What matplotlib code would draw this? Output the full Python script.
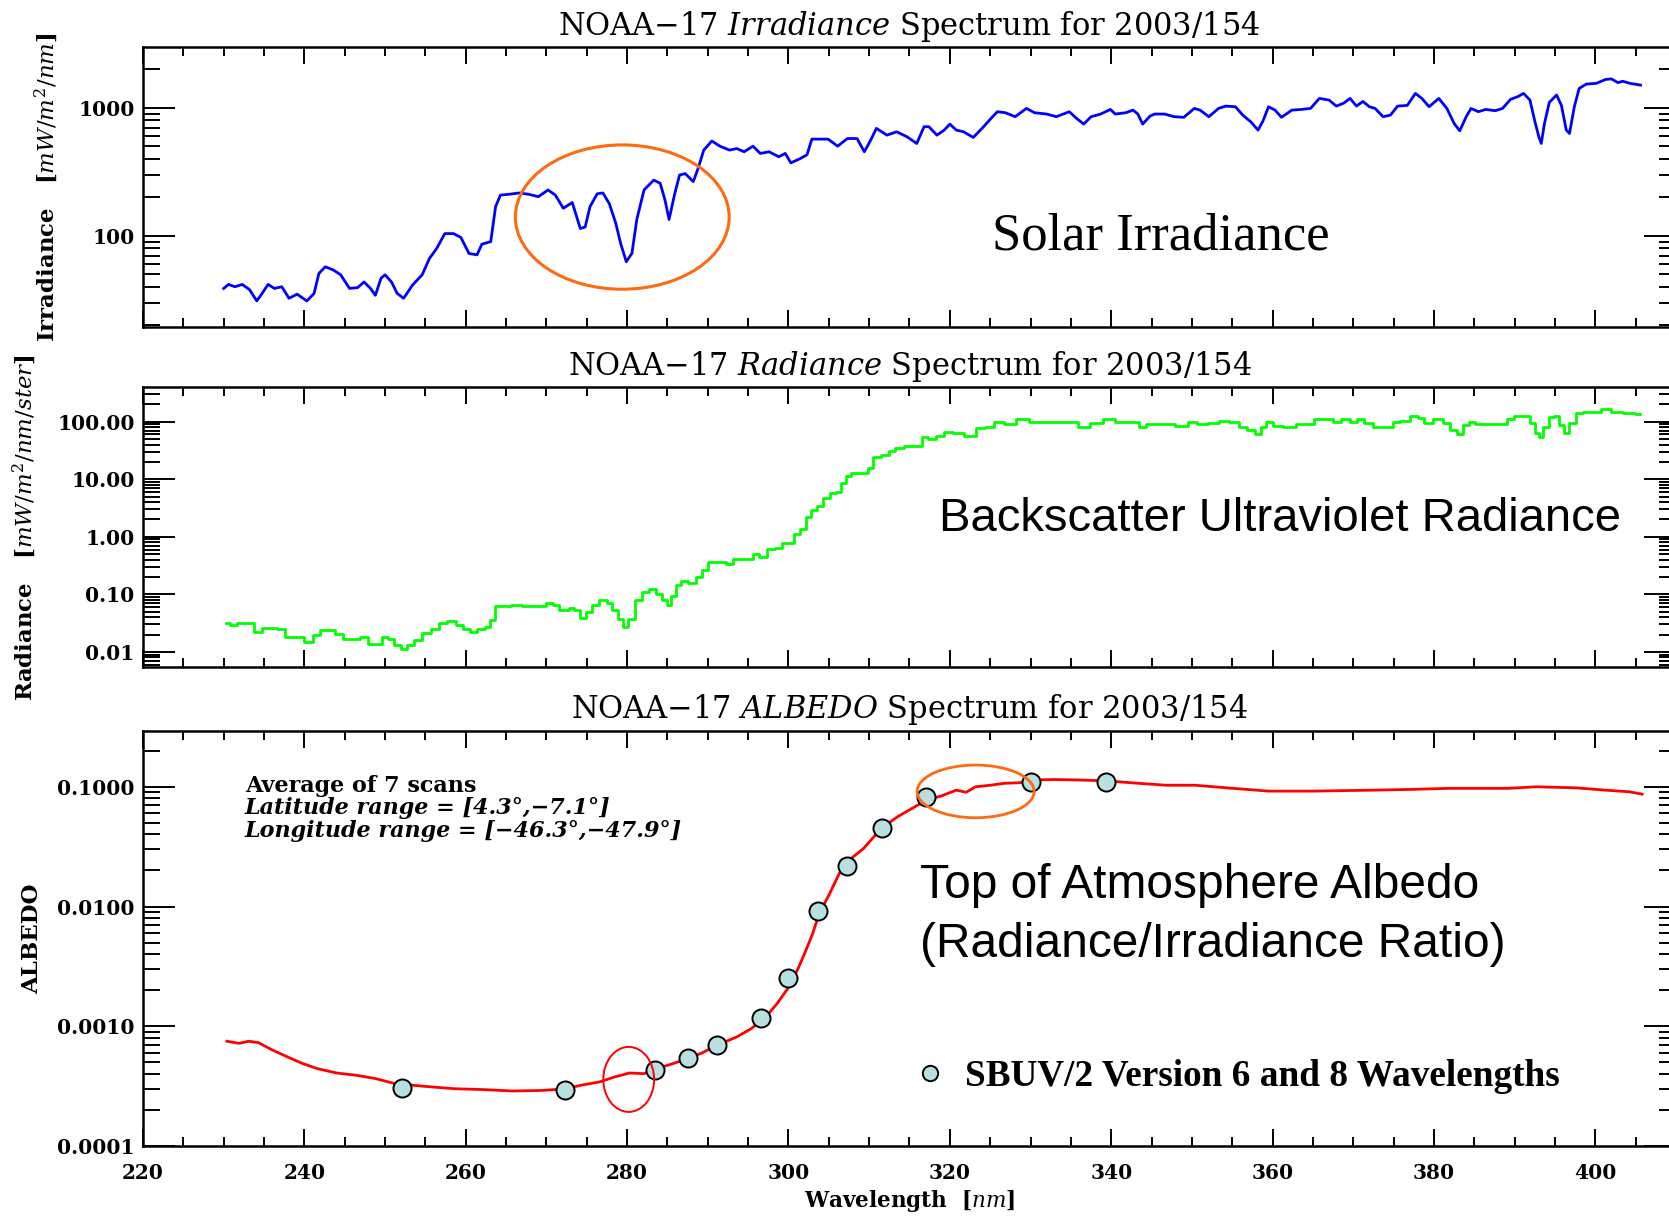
import numpy as np
import matplotlib
matplotlib.use('Agg')
import matplotlib.pyplot as plt
from matplotlib.patches import Ellipse
from matplotlib.ticker import LogLocator, FuncFormatter, NullFormatter, MultipleLocator

plt.rcParams['font.family'] = 'DejaVu Serif'
plt.rcParams['mathtext.fontset'] = 'custom'
plt.rcParams['mathtext.rm'] = 'DejaVu Serif'
plt.rcParams['mathtext.it'] = 'DejaVu Serif:italic'
plt.rcParams['mathtext.bf'] = 'DejaVu Serif:bold'

# ---------------- data ----------------
irr_wl = [230.0, 230.6, 231.4, 232.3, 233.2, 234.1, 234.7, 235.5, 236.3, 237.2, 238.1, 239.1, 240.3, 241.2,
          241.8, 242.6, 243.6, 244.5, 245.6, 246.6, 247.4, 248.2, 248.8, 249.5, 250.0, 250.8, 251.5, 252.3,
          253.4, 254.6, 255.5, 256.4, 257.4, 258.5, 259.4, 260.4, 261.4, 262.0, 263.1, 263.7, 264.3, 265.4,
          266.6, 267.8, 269.0, 270.2, 271.1, 272.1, 273.2, 274.2, 274.8, 275.4, 276.3, 277.0, 277.8, 278.6,
          279.2, 279.9, 280.6, 281.2, 282.1, 283.3, 284.1, 284.7, 285.2, 285.9, 286.5, 287.2, 288.2, 288.8,
          289.5, 290.5, 291.5, 292.7, 293.6, 294.5, 295.6, 296.5, 297.6, 298.8, 299.6, 300.3, 301.5, 302.3,
          302.9, 304.0, 304.9, 306.1, 307.3, 308.5, 309.4, 310.2, 310.9, 312.2, 313.4, 314.7, 315.9, 316.8,
          317.4, 318.4, 319.3, 320.0, 320.8, 321.7, 322.9, 324.1, 325.3, 325.9, 326.9, 328.1, 329.5, 330.5,
          332.0, 333.2, 334.8, 335.7, 336.6, 337.5, 338.7, 339.9, 340.5, 341.8, 342.7, 343.3, 343.9, 344.8,
          345.4, 346.6, 347.8, 349.0, 350.3, 351.0, 352.1, 353.3, 354.2, 355.4, 356.3, 357.3, 358.2, 358.8,
          359.5, 360.3, 361.1, 362.4, 363.6, 364.7, 365.8, 367.0, 367.9, 368.8, 369.6, 370.4, 371.2, 372.0,
          372.7, 373.7, 374.6, 375.5, 376.7, 377.7, 378.5, 379.4, 380.6, 381.6, 382.5, 383.2, 384.0, 384.6,
          385.5, 386.4, 387.6, 388.5, 389.5, 390.4, 391.1, 391.9, 392.5, 393.0, 393.3, 393.7, 394.3, 395.2,
          395.8, 396.4, 396.8, 397.4, 398.0, 398.9, 400.1, 401.3, 402.0, 402.8, 403.4, 404.3, 405.6]
irr_val = [38.8, 41.7, 40.0, 41.7, 38.0, 31.0, 35.0, 41.7, 38.8, 40.0, 32.5, 35.0, 31.0, 35.4,
           50.8, 57.3, 54.0, 49.6, 38.8, 39.4, 43.6, 38.8, 34.3, 46.6, 49.6, 43.6, 35.5, 32.5,
           41.2, 49.6, 66.5, 79.6, 104, 104, 97, 72.8, 71, 86, 90, 169, 208, 211,
           216, 211, 202, 228, 208, 164, 182, 114, 117, 169, 213, 216, 178, 125,
           87, 62.7, 73, 134, 228, 272, 257, 190, 134, 213, 298, 306, 265, 336,
           467, 550, 501, 467, 480, 453, 501, 440, 453, 414, 440, 371, 402, 430,
           569, 569, 569, 501, 575, 575, 453, 560, 690, 611, 649, 593, 526, 711,
           711, 611, 669, 745, 669, 649, 586, 702, 851, 931, 914, 851, 988, 914,
           893, 851, 931, 826, 745, 851, 893, 970, 893, 914, 959, 893, 745, 860,
           893, 893, 851, 842, 988, 959, 851, 988, 1030, 1018, 876, 777, 669, 786,
           1018, 959, 842, 959, 970, 988, 1183, 1148, 1030, 1085, 1183, 1030, 1120, 1018,
           988, 851, 876, 1030, 1043, 1294, 1183, 1018, 1183, 988, 754, 661, 851, 988,
           931, 970, 948, 988, 1164, 1221, 1294, 1148, 786, 593, 526, 754, 1102, 1257,
           1043, 669, 630, 1018, 1416, 1531, 1550, 1664, 1680, 1570, 1610, 1550, 1503]

rad_wl = [230.3, 231.2, 232.1, 233.0, 234.4, 235.2, 236.1, 237.0, 238.2, 239.4, 240.6, 241.5, 242.3, 243.4,
          244.3, 245.2, 246.4, 247.3, 248.5, 249.1, 250.1, 250.7, 251.6, 252.3, 253.1, 254.0, 255.2, 256.2,
          257.1, 258.3, 259.2, 260.1, 261.0, 261.9, 262.8, 263.3, 263.9, 264.9, 266.2, 267.7, 269.5, 270.4,
          271.3, 271.8, 272.6, 273.1, 273.8, 274.4, 275.3, 275.9, 277.1, 277.8, 278.5, 279.2, 279.8, 280.5,
          281.4, 282.3, 283.2, 284.0, 284.6, 285.2, 285.7, 286.3, 287.1, 288.1, 288.9, 289.6, 290.5, 291.8,
          292.7, 293.6, 295.1, 296.0, 296.8, 297.8, 298.8, 299.7, 300.3, 301.1, 301.8, 302.5, 303.1, 303.9,
          304.7, 305.5, 306.2, 306.8, 307.4, 308.2, 309.4, 310.2, 310.8, 312.1, 312.7, 313.8, 314.8, 316.2,
          316.8, 317.8, 318.7, 319.9, 320.8, 322.6, 323.8, 325.0, 325.9, 327.5, 329.0, 330.5, 332.0, 335.1,
          336.6, 338.1, 339.9, 341.1, 343.0, 343.9, 344.8, 346.9, 349.0, 350.1, 351.2, 352.7, 353.9, 355.4,
          356.3, 357.3, 358.3, 358.9, 359.5, 360.6, 362.1, 363.6, 364.8, 365.5, 367.0, 367.9, 369.1, 370.0,
          370.9, 371.8, 373.1, 374.6, 375.2, 376.4, 377.6, 378.5, 379.1, 380.6, 381.6, 382.5, 383.1, 384.0,
          384.6, 385.5, 388.5, 389.5, 390.4, 391.6, 392.3, 392.8, 393.2, 393.9, 394.6, 395.2, 395.8, 396.4,
          397.1, 398.0, 398.9, 400.1, 401.3, 402.5, 404.3, 405.6]
rad_val = [0.0324, 0.0291, 0.0324, 0.0315, 0.0223, 0.0265, 0.0265, 0.0255, 0.0182, 0.0182, 0.0149, 0.0195, 0.0244, 0.0244,
           0.0203, 0.0166, 0.0170, 0.0182, 0.0136, 0.0139, 0.0182, 0.0170, 0.0130, 0.0114, 0.0130, 0.0160, 0.0209, 0.0251,
           0.0324, 0.0346, 0.0291, 0.0251, 0.0223, 0.0251, 0.0270, 0.0356, 0.0622, 0.063, 0.065, 0.063, 0.063, 0.0711,
           0.065, 0.0531, 0.054, 0.059, 0.0531, 0.0395, 0.050, 0.0654, 0.0792, 0.0711, 0.0531, 0.038, 0.0272, 0.037,
           0.0792, 0.1105, 0.126, 0.103, 0.081, 0.0654, 0.092, 0.144, 0.172, 0.155, 0.203, 0.263, 0.367, 0.367,
           0.343, 0.409, 0.409, 0.50, 0.45, 0.602, 0.63, 0.766, 0.766, 1.14, 1.34, 2.23, 2.91, 3.42,
           4.64, 5.82, 6.05, 8.47, 11.3, 12.6, 12.6, 15.4, 24.6, 26.4, 31.4, 34.4, 37.7, 37.7,
           53.4, 49.3, 56.3, 67, 62.7, 56.3, 76.6, 81.9, 100, 91, 110, 100, 100, 100,
           82, 96, 110, 100, 100, 82, 91, 91, 84, 100, 91, 94, 104, 100,
           82, 71.6, 61, 82, 100, 84, 82, 91, 91, 110, 110, 100, 110, 100,
           110, 96, 82, 82, 100, 104, 125, 114, 96, 110, 94, 71.6, 61, 87,
           100, 91, 91, 110, 125, 125, 94, 64.4, 54.8, 82, 122, 125, 87, 62.7,
           94, 140, 149, 149, 164, 149, 143, 134]

alb_wl = [230.4, 231.9, 233.1, 234.3, 236.1, 237.9, 239.8, 241.6, 244.0, 246.4, 248.8, 251.2, 254.9, 258.5,
          262.1, 265.8, 269.4, 272.4, 274.2, 276.6, 278.5, 280.3, 282.1, 283.7, 285.7, 287.5, 289.3, 291.1,
          293.6, 295.4, 297.2, 298.6, 299.9, 301.1, 302.0, 303.0, 303.8, 305.1, 306.3, 307.5, 309.3, 311.5,
          313.5, 315.3, 317.1, 318.9, 320.8, 322.0, 323.2, 325.0, 326.8, 328.6, 330.4, 332.9, 335.9, 339.5,
          342.5, 346.8, 350.4, 355.2, 359.5, 364.9, 372.8, 377.0, 381.8, 389.1, 392.7, 397.6, 401.2, 404.2, 405.8]
alb_val = [7.5e-4, 7.2e-4, 7.5e-4, 7.3e-4, 6.3e-4, 5.55e-4, 4.88e-4, 4.43e-4, 4.07e-4, 3.90e-4, 3.66e-4, 3.32e-4, 3.15e-4, 3.01e-4,
           2.96e-4, 2.88e-4, 2.91e-4, 3.0e-4, 3.21e-4, 3.43e-4, 3.78e-4, 4.07e-4, 4.02e-4, 4.43e-4, 4.88e-4, 5.37e-4, 5.99e-4, 6.94e-4,
           8.15e-4, 9.57e-4, 1.20e-3, 1.55e-3, 2.06e-3, 2.94e-3, 4.05e-3, 5.94e-3, 8.74e-3, 1.28e-2, 1.89e-2, 2.44e-2, 3.05e-2, 4.49e-2,
           5.61e-2, 6.59e-2, 7.74e-2, 8.36e-2, 9.38e-2, 9.0e-2, 0.100, 0.103, 0.107, 0.108, 0.114, 0.115, 0.114, 0.112,
           0.108, 0.103, 0.103, 0.0969, 0.092, 0.092, 0.0938, 0.095, 0.097, 0.097, 0.100, 0.098, 0.0938, 0.0908, 0.0868]

sbuv_wl = [252.1, 272.3, 283.5, 287.5, 291.1, 296.6, 299.9, 303.7, 307.2, 311.6, 317.1, 330.1, 339.3]
sbuv_val = [3.05e-4, 2.96e-4, 4.28e-4, 5.43e-4, 6.94e-4, 1.18e-3, 2.54e-3, 9.2e-3, 2.19e-2, 4.57e-2, 8.25e-2, 0.109, 0.109]

titles = ["NOAA\u221217 $\\mathit{Irradiance}$ Spectrum for 2003/154",
          "NOAA\u221217 $\\mathit{Radiance}$ Spectrum for 2003/154",
          "NOAA\u221217 $\\mathit{ALBEDO}$ Spectrum for $\\mathit{2003/154}$"]
ylabels = ["Irradiance   [$\\mathit{mW/m^2/nm}$]",
           "Radiance   [$\\mathit{mW/m^2/nm/ster}$]",
           "ALBEDO"]
xlabel = "Wavelength  [$\\mathit{nm}$]"
info_lines = ["Average of 7 scans",
              "Latitude range = [4.3\u00b0,\u22127.1\u00b0]",
              "Longitude range = [\u221246.3\u00b0,\u221247.9\u00b0]"]

# ---------------- figure ----------------
W, H = 1669, 1217
fig = plt.figure(figsize=(W / 100, H / 100), dpi=100)

def fx(px):
    return px / W

def fy(py):
    return 1 - py / H

x_left, x_right = 143, 1676
ax1 = fig.add_axes([fx(x_left), fy(326.7), fx(x_right - x_left), (326.7 - 47.3) / H])
ax2 = fig.add_axes([fx(x_left), fy(667.3), fx(x_right - x_left), (667.3 - 387.3) / H])
ax3 = fig.add_axes([fx(x_left), fy(1146), fx(x_right - x_left), (1146 - 730.7) / H])

ax1.plot(irr_wl, irr_val, color='#0000ff', lw=2.0)
ax2.plot(rad_wl, rad_val, color='#00ff00', lw=2.0, drawstyle='steps-mid')
ax3.plot(alb_wl, alb_val, color='#ff0000', lw=2.0)
ax3.plot(sbuv_wl, sbuv_val, 'o', ms=13, mfc='#b8e0e0', mec='black', mew=1.4,
         label='SBUV/2 Version 6 and 8 Wavelengths', zorder=5)

ylims = [(19.5, 2965), (0.0054, 396), (1e-4, 0.294)]
fmts = [lambda v, p: '%d' % round(v), lambda v, p: '%.2f' % v, lambda v, p: '%.4f' % v]

for ax, yl, fm, t, lab in zip([ax1, ax2, ax3], ylims, fmts, titles, ylabels):
    ax.set_xlim(220, 410)
    ax.set_yscale('log')
    ax.set_ylim(*yl)
    ax.xaxis.set_major_locator(MultipleLocator(20))
    ax.xaxis.set_minor_locator(MultipleLocator(5))
    ax.yaxis.set_major_locator(LogLocator(base=10, numticks=20))
    ax.yaxis.set_minor_locator(LogLocator(base=10, subs=np.arange(2, 10), numticks=20))
    ax.yaxis.set_major_formatter(FuncFormatter(fm))
    ax.yaxis.set_minor_formatter(NullFormatter())
    ax.tick_params(which='both', direction='in', top=True, right=True, width=1.4, colors='black')
    ax.tick_params(axis='x', which='major', length=12.5)
    ax.tick_params(axis='x', which='minor', length=6.5)
    ax.tick_params(axis='y', which='major', length=23, pad=6)
    ax.tick_params(axis='y', which='minor', length=12)
    for s in ax.spines.values():
        s.set_linewidth(1.8)
    for lbl in ax.get_yticklabels():
        lbl.set_fontweight('bold')
        lbl.set_fontsize(14.5)
    ax.set_title(t, fontsize=22, pad=9)
    ax.set_ylabel(lab, fontsize=16.5, fontweight='bold')

ax1.tick_params(axis='x', labelbottom=False)
ax2.tick_params(axis='x', labelbottom=False)
ax3.tick_params(axis='x', pad=12)
for lbl in ax3.get_xticklabels():
    lbl.set_fontweight('bold')
    lbl.set_fontsize(14.5)
ax3.set_xlabel(xlabel, fontsize=15.5, fontweight='bold', labelpad=4)

ax1.yaxis.set_label_coords((60 - x_left) / (x_right - x_left), 0.5)
ax2.yaxis.set_label_coords((38 - x_left) / (x_right - x_left), 0.5)
ax3.yaxis.set_label_coords((43 - x_left) / (x_right - x_left), 0.5)


def ring(ax, wl, val, width_nm, height_dec, color, lw):
    x0, x1 = ax.get_xlim()
    y0, y1 = np.log10(ax.get_ylim())
    cx = (wl - x0) / (x1 - x0)
    cy = (np.log10(val) - y0) / (y1 - y0)
    ax.add_patch(Ellipse((cx, cy), width_nm / (x1 - x0), height_dec / (y1 - y0),
                         transform=ax.transAxes, fill=False, edgecolor=color, lw=lw, zorder=6))

ring(ax1, 279.4, 140, 26.5, 1.127, '#ff6a10', 2.2)
ring(ax3, 280.2, 3.6e-4, 6.3, 0.543, '#ff0000', 1.4)
ring(ax3, 323.2, 0.0915, 14.5, 0.44, '#ff6a10', 2.0)

# annotations
fig.text(fx(1161), fy(250), "Solar Irradiance", family='Liberation Serif', fontsize=38,
         ha='center', va='baseline')
fig.text(fx(1280), fy(531), "Backscatter Ultraviolet Radiance", family='Liberation Sans', fontsize=34,
         ha='center', va='baseline')
fig.text(fx(920), fy(898), "Top of Atmosphere Albedo", family='Liberation Sans', fontsize=34.5,
         ha='left', va='baseline')
fig.text(fx(920), fy(957), "(Radiance/Irradiance Ratio)", family='Liberation Sans', fontsize=34.5,
         ha='left', va='baseline')

for i, (line, yb) in enumerate(zip(info_lines, [792, 814, 837])):
    fig.text(fx(245), fy(yb), line, fontsize=16, fontweight='bold',
             fontstyle='normal' if i == 0 else 'italic', ha='left', va='baseline')

ax3.legend(loc='center left', bbox_to_anchor=(fx(921), fy(1077)), bbox_transform=fig.transFigure,
           frameon=False, borderpad=0, borderaxespad=0, handlelength=0.5, handletextpad=0.68,
           markerscale=0.85, numpoints=1,
           prop=dict(family='Liberation Serif', weight='bold', size=26.8))

fig.savefig('out.png', dpi=100)
